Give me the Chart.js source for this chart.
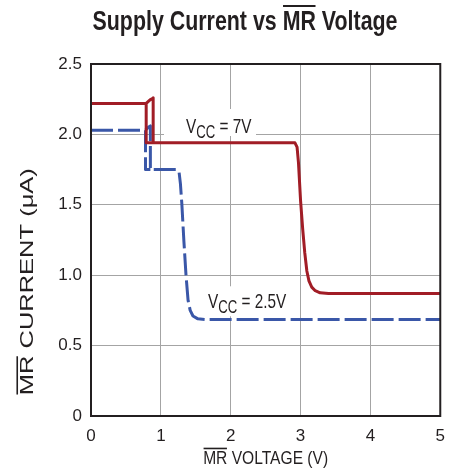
<!DOCTYPE html>
<html>
<head>
<meta charset="utf-8">
<script src="https://cdn.jsdelivr.net/npm/chart.js@4.4.1/dist/chart.umd.min.js"></script>
<style>
html,body{margin:0;padding:0;background:#fff;}
#wrap{width:455px;height:468px;position:relative;}
</style>
</head>
<body>
<div id="wrap"><canvas id="c" width="455" height="468"></canvas></div>
<script>
// ---------------- data ----------------
const chartTitle = 'Supply Current vs MR Voltage';
const xAxisTitle = 'MR VOLTAGE (V)';
const yAxisTitle = 'MR CURRENT (\u03bcA)';
const xTickValues = [0, 1, 2, 3, 4, 5];
const yTickValues = [0, 0.5, 1.0, 1.5, 2.0, 2.5];
const yTickLabels = ['0', '0.5', '1.0', '1.5', '2.0', '2.5'];
const xTickLabels = ['0', '1', '2', '3', '4', '5'];
const seriesNames = ['VCC = 7V', 'VCC = 2.5V'];

// VCC = 7V trace (null = break in the trace)
const vcc7X = [0, 0.79, 0.845, 0.88, 0.89, 0.89, 2.92, 2.95, 2.97, 3.00, 3.03, 3.06, 3.09, 3.12, 3.16, 3.21, 3.28, 3.40, 5.00,
               0.79, 0.79, 0.79, 0.89];
const vcc7Y = [2.22, 2.22, 2.245, 2.255, 2.26, 1.94, 1.94, 1.91, 1.80, 1.53, 1.33, 1.16, 1.03, 0.96, 0.915, 0.89, 0.875, 0.87, 0.87,
               null, 2.22, 1.94, 1.94];

// VCC = 2.5V trace
const vcc25X = [0, 0.78, 0.82, 0.85, 0.85, 1.225, 1.26, 1.28, 1.30, 1.33, 1.36, 1.39, 1.42, 1.46, 1.53, 1.65, 5.00,
                0.78, 0.78, 0.78, 0.85];
const vcc25Y = [2.03, 2.03, 2.05, 2.06, 1.75, 1.75, 1.735, 1.65, 1.51, 1.24, 1.00, 0.82, 0.75, 0.71, 0.69, 0.685, 0.685,
                null, 2.03, 1.75, 1.75];

// ---------------- styling ----------------
const FONT = "'Liberation Sans', Arial, sans-serif";
const INK = '#231f20';
const GRID = '#a4a4a4';
const RED = '#a11d26';
const BLUE = '#3a57a8';

const toPts = (xs, ys) => xs.map((x, i) => ({x: x, y: ys[i]}));

function drawVccLabel(ctx, x, y, rest, k) {
  ctx.save();
  ctx.translate(x, y);
  ctx.scale(k, 1);
  ctx.fillStyle = INK;
  ctx.textBaseline = 'alphabetic';
  ctx.textAlign = 'left';
  ctx.font = '21px ' + FONT;
  ctx.fillText('V', 0, 0);
  let cx = ctx.measureText('V').width;
  ctx.font = '18px ' + FONT;
  ctx.fillText('CC', cx, 5);
  cx += ctx.measureText('CC').width;
  ctx.font = '21px ' + FONT;
  ctx.fillText(rest, cx, 0);
  ctx.restore();
}

function hLine(ctx, x1, x2, y, w) {
  ctx.save();
  ctx.strokeStyle = INK;
  ctx.lineWidth = w;
  ctx.beginPath();
  ctx.moveTo(x1, y);
  ctx.lineTo(x2, y);
  ctx.stroke();
  ctx.restore();
}

const decor = {
  id: 'decor',
  afterLayout(chart, args, opts) {
    // main title: condensed text, centred where the reference has it, with overline on MR
    const tb = chart.titleBlock;
    if (tb && !tb._wrapped) {
      tb._wrapped = true;
      const origDraw = tb.draw;
      tb.draw = function () {
        const ctx = this.ctx;
        const f = this.options.font;
        ctx.save();
        ctx.font = f.weight + ' ' + f.size + 'px ' + FONT;
        ctx.textBaseline = 'middle';
        const w = ctx.measureText(chartTitle).width;
        const pre = ctx.measureText('Supply Current vs ').width;
        const mr = ctx.measureText('MR').width;
        const asc = ctx.measureText('M').actualBoundingBoxAscent;
        ctx.restore();
        const cx0 = (this.left + this.right) / 2;
        const k = opts.titleWidth / w;
        ctx.save();
        ctx.translate(opts.titleCenter, 0);
        ctx.scale(k, 1);
        ctx.translate(-cx0, 0);
        origDraw.apply(this, arguments);
        const ty = this.top + this.options.padding.top + f.size * 1.2 / 2;
        const x0 = cx0 - w / 2;
        hLine(ctx, x0 + pre + 0.5, x0 + pre + mr - 0.5, ty - asc - 4.5, 2);
        ctx.restore();
      };
    }
    // x axis title: condensed, overline on MR
    const xs = chart.scales.x;
    if (xs && !xs._wrapped) {
      xs._wrapped = true;
      const orig = Object.getPrototypeOf(xs).drawTitle;
      xs.drawTitle = function () {
        const ctx = this.ctx;
        const f = this.options.title.font;
        ctx.save();
        ctx.font = f.size + 'px ' + FONT;
        ctx.textBaseline = 'middle';
        const w = ctx.measureText(xAxisTitle).width;
        const mr = ctx.measureText('MR').width;
        const asc = ctx.measureText('M').actualBoundingBoxAscent;
        ctx.restore();
        const cx = (this.left + this.right) / 2;
        const k = opts.xTitleWidth / w;
        ctx.save();
        ctx.translate(cx, 0);
        ctx.scale(k, 1);
        ctx.translate(-cx, 0);
        orig.call(this);
        const ty = this.bottom - f.size / 2;
        hLine(ctx, cx - w / 2 + 0.5, cx - w / 2 + mr - 0.5, ty - asc - 2.5, 1.6);
        ctx.restore();
      };
    }
    // y axis title: stretched along its length, shifted down, overline on MR
    const ys = chart.scales.y;
    if (ys && !ys._wrapped) {
      ys._wrapped = true;
      const orig = Object.getPrototypeOf(ys).drawTitle;
      ys.drawTitle = function () {
        const ctx = this.ctx;
        const t = this.options.title;
        const f = t.font;
        ctx.save();
        ctx.font = f.size + 'px ' + FONT;
        ctx.textBaseline = 'middle';
        const w = ctx.measureText(yAxisTitle).width;
        const mr = ctx.measureText('MR').width;
        const asc = ctx.measureText('M').actualBoundingBoxAscent;
        ctx.restore();
        const cy = (this.top + this.bottom) / 2;
        const k = opts.yTitleLength / w;
        ctx.save();
        ctx.translate(0, opts.yTitleCenter);
        ctx.scale(1, k);
        ctx.translate(0, -cy);
        orig.call(this);
        const tx = this.left + f.size / 2 + t.padding.top;
        ctx.strokeStyle = INK;
        ctx.lineWidth = 1.6;
        ctx.beginPath();
        ctx.moveTo(tx - asc - 2.5, cy + w / 2 - 0.5);
        ctx.lineTo(tx - asc - 2.5, cy + w / 2 - mr + 0.5);
        ctx.stroke();
        ctx.restore();
      };
    }
  },
  beforeDatasetsDraw(chart, args, opts) {
    const ctx = chart.ctx;
    const xs = chart.scales.x, ys = chart.scales.y;
    opts.labels.forEach((lb) => {
      const px = xs.getPixelForValue(lb.x);
      const py = ys.getPixelForValue(lb.y);
      ctx.save();
      ctx.fillStyle = '#ffffff';
      ctx.fillRect(px + lb.box[0], py + lb.box[1], lb.box[2], lb.box[3]);
      ctx.restore();
      drawVccLabel(ctx, px, py, lb.rest, opts.labelSqueeze);
    });
  },
  afterDatasetsDraw(chart) {
    const ctx = chart.ctx;
    const a = chart.chartArea;
    ctx.save();
    ctx.strokeStyle = INK;
    ctx.lineWidth = 2;
    ctx.strokeRect(a.left, a.top, a.right - a.left, a.bottom - a.top);
    ctx.restore();
  }
};

new Chart(document.getElementById('c'), {
  type: 'line',
  data: {
    datasets: [
      {
        label: seriesNames[0],
        data: toPts(vcc7X, vcc7Y),
        borderColor: RED,
        borderWidth: 3,
        borderJoinStyle: 'round',
        borderCapStyle: 'butt',
        pointRadius: 0,
        tension: 0,
        fill: false,
        spanGaps: false
      },
      {
        label: seriesNames[1],
        data: toPts(vcc25X, vcc25Y),
        borderColor: BLUE,
        borderWidth: 3,
        borderDash: [22, 5],
        borderJoinStyle: 'round',
        borderCapStyle: 'butt',
        pointRadius: 0,
        tension: 0,
        fill: false,
        spanGaps: false
      }
    ]
  },
  options: {
    responsive: false,
    animation: false,
    devicePixelRatio: 1,
    layout: {padding: {left: 0, right: 14, top: 0, bottom: 0}},
    scales: {
      x: {
        type: 'linear',
        min: 0, max: 5,
        afterBuildTicks: (s) => { s.ticks = xTickValues.map(v => ({value: v})); },
        afterFit: (s) => { s.height = 52; },
        ticks: {
          callback: (v) => xTickLabels[xTickValues.indexOf(v)],
          font: {family: FONT, size: 17},
          color: INK,
          padding: 10,
          maxRotation: 0
        },
        grid: {color: GRID, lineWidth: 1, drawTicks: false},
        border: {display: false},
        title: {
          display: true,
          text: xAxisTitle,
          font: {family: FONT, size: 18, lineHeight: 1},
          color: INK,
          padding: {top: 0, bottom: 0}
        }
      },
      y: {
        type: 'linear',
        min: 0, max: 2.5,
        afterBuildTicks: (s) => { s.ticks = yTickValues.map(v => ({value: v})); },
        afterFit: (s) => { s.width = 91; },
        ticks: {
          callback: (v) => yTickLabels[yTickValues.indexOf(v)],
          font: {family: FONT, size: 17},
          color: INK,
          padding: 9
        },
        grid: {color: GRID, lineWidth: 1, drawTicks: false},
        border: {display: false},
        title: {
          display: true,
          text: yAxisTitle,
          font: {family: FONT, size: 19, lineHeight: 1},
          color: INK,
          padding: {top: 18, bottom: 0}
        }
      }
    },
    plugins: {
      legend: {display: false},
      tooltip: {enabled: false},
      title: {
        display: true,
        text: chartTitle,
        color: INK,
        font: {family: FONT, size: 28, weight: 'bold', lineHeight: 1.2},
        padding: {top: 5, bottom: 25.4}
      },
      decor: {
        titleCenter: 245,
        titleWidth: 305,
        xTitleWidth: 125,
        yTitleLength: 227,
        yTitleCenter: 281.7,
        labelSqueeze: 0.73,
        labels: [
          {x: 1.36, y: 2.01, rest: ' = 7V', box: [-22, -24, 92, 27]},
          {x: 1.675, y: 0.765, rest: ' = 2.5V', box: [-5, -22, 92, 30]}
        ]
      }
    }
  },
  plugins: [decor]
});
</script>
</body>
</html>
